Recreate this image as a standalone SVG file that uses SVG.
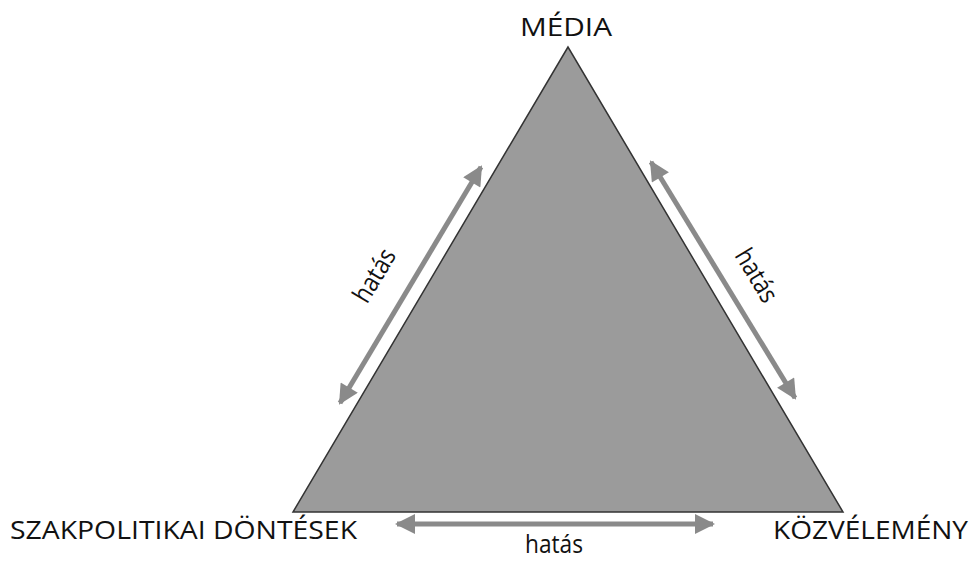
<svg xmlns="http://www.w3.org/2000/svg" width="973" height="561" viewBox="0 0 973 561">
<style>
.lbl{font-family:"Open Sans","Liberation Sans",sans-serif;font-size:26px;fill:#111}
.arr{stroke:#8a8a8a;stroke-width:5;fill:none;marker-start:url(#h);marker-end:url(#h)}
</style>
<defs>
<marker id="h" viewBox="0 0 10 10" refX="9" refY="5" markerWidth="4.2" markerHeight="4" orient="auto-start-reverse" markerUnits="strokeWidth">
<path d="M0,0 L10,5 L0,10 Z" fill="#8a8a8a"/>
</marker>
</defs>
<rect width="973" height="561" fill="#fff"/>
<g id="triangle">
<polygon points="568,47 293,512 843,512" fill="#9b9b9b" stroke="#333" stroke-width="1.5"/>
</g>
<g id="media"><text class="lbl" x="566" y="36" text-anchor="middle" textLength="92" lengthAdjust="spacingAndGlyphs">MÉDIA</text></g>
<g id="szakpolitikai"><text class="lbl" x="10" y="539" textLength="347" lengthAdjust="spacingAndGlyphs">SZAKPOLITIKAI DÖNTÉSEK</text></g>
<g id="kozvelemeny"><text class="lbl" x="773" y="539" textLength="195" lengthAdjust="spacingAndGlyphs">KÖZVÉLEMÉNY</text></g>
<g id="connectors">
<line class="arr" x1="340" y1="403" x2="481" y2="167"/>
<line class="arr" x1="651" y1="162" x2="795" y2="398"/>
<line class="arr" x1="397" y1="524" x2="713" y2="524"/>
<text class="lbl" transform="translate(382,280) rotate(-59)" text-anchor="middle" textLength="58" lengthAdjust="spacingAndGlyphs">hatás</text>
<text class="lbl" transform="translate(749,280) rotate(59)" text-anchor="middle" textLength="58" lengthAdjust="spacingAndGlyphs">hatás</text>
<text class="lbl" x="554" y="553" text-anchor="middle" textLength="58" lengthAdjust="spacingAndGlyphs">hatás</text>
</g>
</svg>
